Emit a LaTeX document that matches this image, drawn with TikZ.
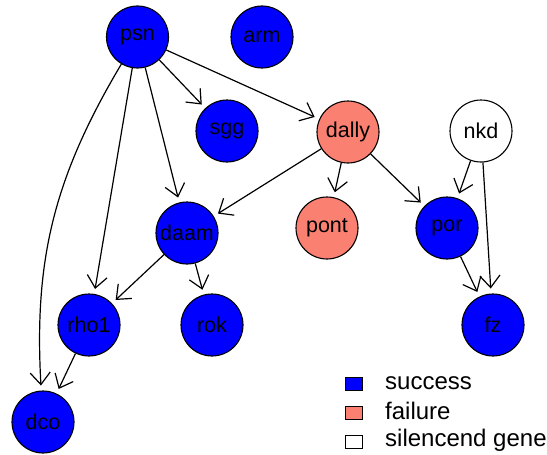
\documentclass[tikz,border=0pt]{standalone}
\usepackage{fontspec}
\setmainfont{Liberation Sans}
\usetikzlibrary{arrows.meta}
\tikzset{
  gene/.style={circle, draw=black, line width=1.1pt, minimum size=62pt, inner sep=0pt,
    font=\fontsize{21.5}{24}\selectfont},
  ok/.style={gene, fill=blue},
  bad/.style={gene, fill={rgb,255:red,250;green,128;blue,114}},
  silent/.style={gene, fill=white},
  link/.style={line width=1.2pt, -{Straight Barb[length=12pt, width=20pt, line width=1.2pt]}, shorten >=5pt},
  keybox/.style={draw=black, line width=1.1pt, minimum width=17pt, minimum height=13pt, inner sep=0pt},
  keytext/.style={anchor=west, font=\fontsize{24}{26}\selectfont, inner sep=0pt}
}
\begin{document}
\begin{tikzpicture}[x=1pt, y=-1pt]
\useasboundingbox (0,0) rectangle (547,455);
% genes
\node[ok]     (psn)   at (137.5,37) {psn};
\node[ok]     (arm)   at (262,37)   {arm};
\node[ok]     (sgg)   at (227,131)  {sgg};
\node[bad]    (dally) at (348,132)  {dally};
\node[silent] (nkd)   at (481,131)  {nkd};
\node[ok]     (daam)  at (187,233)  {daam};
\node[bad]    (pont)  at (327,228)  {pont};
\node[ok]     (por)   at (447,228)  {por};
\node[ok]     (rho1)  at (89,325)   {rho1};
\node[ok]     (rok)   at (212,325)  {rok};
\node[ok]     (fz)    at (493,325)  {fz};
\node[ok]     (dco)   at (43,422)   {dco};
% regulation links
\draw[link] (psn) -- (sgg);
\draw[link] (psn) -- (dally);
\draw[link] (psn) -- (daam);
\draw[link] (psn) -- (rho1);
\draw[link] (psn) to[bend right=17] (dco);
\draw[link] (dally) -- (daam);
\draw[link] (dally) -- (pont);
\draw[link] (dally) -- (por);
\draw[link] (nkd) -- (por);
\draw[link] (nkd) -- (fz);
\draw[link] (por) -- (fz);
\draw[link] (daam) -- (rho1);
\draw[link] (daam) -- (rok);
\draw[link] (rho1) -- (dco);
% key
\node[keybox, fill=blue] (k1) at (354,384) {};
\node[keybox, fill={rgb,255:red,250;green,128;blue,114}] (k2) at (354,413) {};
\node[keybox, fill=white] (k3) at (354,442) {};
\node[keytext] (t1) at (385,383) {success};
\node[keytext] (t2) at (385,411) {failure};
\node[keytext] (t3) at (385,440) {silencend gene};
\end{tikzpicture}
\end{document}
